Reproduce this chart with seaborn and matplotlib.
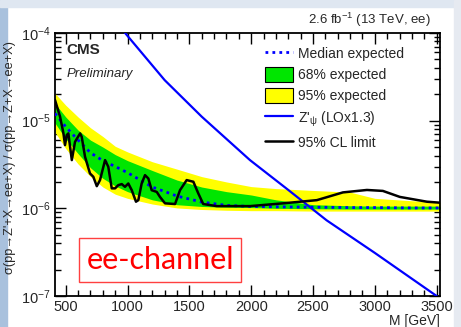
import numpy as np
import pandas as pd
import matplotlib
matplotlib.use("Agg")
import matplotlib.pyplot as plt
import seaborn as sns
from matplotlib.lines import Line2D
from matplotlib.patches import Patch, Rectangle
from matplotlib.ticker import MultipleLocator, LogLocator, NullFormatter

# ---------------------------------------------------------------
# Data
# ---------------------------------------------------------------
exp_mass = [413, 500, 600, 700, 800, 900, 1000, 1200, 1400, 1600, 1800, 2000,
            2200, 2500, 2800, 3000, 3300, 3527]
exp_median = [1.21e-5, 8.5e-6, 6.0e-6, 4.3e-6, 3.5e-6, 3.0e-6, 2.55e-6, 1.75e-6,
              1.38e-6, 1.18e-6, 1.08e-6, 1.05e-6, 1.04e-6, 1.03e-6, 1.02e-6,
              1.02e-6, 1.01e-6, 1.01e-6]
green_up = [1.57e-5, 1.1e-5, 7.8e-6, 6.0e-6, 5.0e-6, 4.1e-6, 3.5e-6, 2.7e-6,
            2.1e-6, 1.75e-6, 1.55e-6, 1.42e-6, 1.25e-6, 1.1e-6, 1.07e-6,
            1.06e-6, 1.06e-6, 1.06e-6]
green_lo = [9.4e-6, 6.2e-6, 4.2e-6, 2.9e-6, 2.2e-6, 1.8e-6, 1.55e-6, 1.25e-6,
            1.1e-6, 1.05e-6, 1.03e-6, 1.02e-6, 1.0e-6, 0.99e-6, 0.98e-6,
            0.98e-6, 0.98e-6, 0.98e-6]
yellow_up = [2.05e-5, 1.5e-5, 1.1e-5, 8.3e-6, 6.6e-6, 5.1e-6, 4.4e-6, 3.4e-6,
             2.8e-6, 2.3e-6, 2.0e-6, 1.77e-6, 1.68e-6, 1.6e-6, 1.53e-6,
             1.3e-6, 1.22e-6, 1.18e-6]
yellow_lo = [7.4e-6, 4.8e-6, 3.2e-6, 2.3e-6, 1.75e-6, 1.45e-6, 1.3e-6, 1.12e-6,
             1.01e-6, 0.97e-6, 0.95e-6, 0.94e-6, 0.94e-6, 0.93e-6, 0.93e-6,
             0.93e-6, 0.93e-6, 0.93e-6]

obs_mass = [413, 454, 481, 494, 508, 521, 549, 575, 616, 629, 656, 696, 723, 751,
            777, 818, 844, 872, 899, 925, 953, 979, 1006, 1034, 1068, 1087, 1114,
            1141, 1168, 1195, 1236, 1262, 1303, 1384, 1424, 1478, 1532, 1572,
            1612, 1721, 1990, 2257, 2531, 2742, 2936, 3065, 3202, 3421, 3526]
obs_limit = [1.72e-5, 1.11e-5, 7.2e-6, 5.26e-6, 6.86e-6, 7.16e-6, 3.55e-6, 5.74e-6,
             7.16e-6, 6.55e-6, 3.87e-6, 2.5e-6, 2.29e-6, 1.79e-6, 2.1e-6, 3.55e-6,
             2.98e-6, 1.69e-6, 1.69e-6, 1.84e-6, 1.89e-6, 1.76e-6, 1.92e-6,
             1.61e-6, 1.19e-6, 1.24e-6, 1.92e-6, 2.39e-6, 2.19e-6, 1.61e-6,
             1.54e-6, 1.35e-6, 1.14e-6, 1.12e-6, 1.61e-6, 2.1e-6, 2.01e-6, 1.48e-6,
             1.12e-6, 1.06e-6, 1.06e-6, 1.14e-6, 1.24e-6, 1.52e-6, 1.62e-6,
             1.58e-6, 1.35e-6, 1.19e-6, 1.16e-6]

zp_mass = [900, 980, 1300, 1600, 1990, 2300, 2610, 3000, 3500]
zp_xsec = [1.35e-4, 1.0e-4, 2.9e-5, 1.11e-5, 3.55e-6, 1.62e-6, 7.3e-7, 3.1e-7, 1.0e-7]

# ---------------------------------------------------------------
# Style
# ---------------------------------------------------------------
sns.set_theme(style="ticks")
plt.rcParams["font.family"] = ["Liberation Sans", "DejaVu Sans"]
plt.rcParams["mathtext.fontset"] = "custom"
plt.rcParams["mathtext.rm"] = "Liberation Sans"
plt.rcParams["mathtext.it"] = "Liberation Sans:italic"
plt.rcParams["mathtext.default"] = "regular"

fig = plt.figure(figsize=(4.61, 3.27), dpi=100)
ax = fig.add_axes([55 / 461, 1 - 296 / 327, 385 / 461, 263 / 327])

# frame of the slide
fig.patches.append(Rectangle((0, 0), 7 / 461, 1, transform=fig.transFigure,
                             color="#a9c1dd", zorder=-5))
fig.patches.append(Rectangle((0, 1 - 7 / 327), 1, 7 / 327, transform=fig.transFigure,
                             color="#dfe7f1", zorder=-5))
fig.patches.append(Rectangle((1 - 7 / 461, 0), 7 / 461, 1, transform=fig.transFigure,
                             color="#e6eaf1", zorder=-5))

# ---------------------------------------------------------------
# Bands and curves
# ---------------------------------------------------------------
ax.fill_between(exp_mass, yellow_lo, yellow_up, color="#ffff00", lw=0, zorder=1)
ax.fill_between(exp_mass, green_lo, green_up, color="#00e600", lw=0, zorder=2)

exp_df = pd.DataFrame({"M": exp_mass, "median": exp_median})
obs_df = pd.DataFrame({"M": obs_mass, "limit": obs_limit})
zp_df = pd.DataFrame({"M": zp_mass, "xsec": zp_xsec})

sns.lineplot(data=exp_df, x="M", y="median", ax=ax, color="#0000ff", lw=2,
             linestyle=(0, (1, 1.5)), zorder=3)
sns.lineplot(data=zp_df, x="M", y="xsec", ax=ax, color="#0000ff", lw=1.6, zorder=4)
sns.lineplot(data=obs_df, x="M", y="limit", ax=ax, color="black", lw=1.8, zorder=5)

ax.set_yscale("log")
ax.set_xlim(413, 3527)
ax.set_ylim(1e-7, 1e-4)

ax.xaxis.set_major_locator(MultipleLocator(500))
ax.xaxis.set_minor_locator(MultipleLocator(100))
ax.yaxis.set_major_locator(LogLocator(base=10))
ax.yaxis.set_minor_locator(LogLocator(base=10, subs=np.arange(2, 10)))
ax.yaxis.set_minor_formatter(NullFormatter())
ax.tick_params(which="both", direction="in", top=True, right=True,
               labelsize=10.5, color="black", pad=3)
ax.tick_params(which="major", length=8, width=1)
ax.tick_params(which="minor", length=4, width=1)
for s in ax.spines.values():
    s.set_linewidth(1.3)
    s.set_color("black")

ax.set_xlabel("M [GeV]", fontsize=10, loc="right", labelpad=0)
ax.set_ylabel("σ(pp→Z'+X→ee+X) / σ(pp→Z+X→ee+X)", fontsize=9.2)
ax.yaxis.set_label_coords(-0.10, 0.525)

# ---------------------------------------------------------------
# Texts
# ---------------------------------------------------------------
ax.text(0.03, 0.935, "CMS", transform=ax.transAxes, fontsize=11,
        fontweight="bold", va="center", ha="left")
ax.text(0.03, 0.845, "Preliminary", transform=ax.transAxes, fontsize=9.5,
        fontstyle="italic", va="center", ha="left")
fig.text(431 / 461, 1 - 20 / 327, r"2.6 fb$^{-1}$ (13 TeV, ee)", fontsize=9.5,
         ha="right", va="center")

fig.text(160 / 461, 1 - 260 / 327, "ee-channel", fontsize=22, family="Lato",
         color="#ff0000", ha="center", va="center",
         bbox=dict(boxstyle="square,pad=0.25", fc="white", ec="#ff4040", lw=1))

handles = [
    Line2D([], [], color="#0000ff", lw=2, linestyle=(0, (1, 1.5))),
    Patch(facecolor="#00e600", edgecolor="black", lw=0.8),
    Patch(facecolor="#ffff00", edgecolor="black", lw=0.8),
    Line2D([], [], color="#0000ff", lw=1.6),
    Line2D([], [], color="black", lw=1.8),
]
labels = ["Median expected", "68% expected", "95% expected",
          r"Z'$_{\psi}$ (LOx1.3)", "95% CL limit"]
ax.legend(handles, labels, loc="upper left", bbox_to_anchor=(0.545, 0.95),
          frameon=False, fontsize=10, handlelength=2.0, handleheight=1.3,
          handletextpad=0.36, labelspacing=0.42, borderaxespad=0,
          borderpad=0)

fig.savefig("out.png", dpi=100)
